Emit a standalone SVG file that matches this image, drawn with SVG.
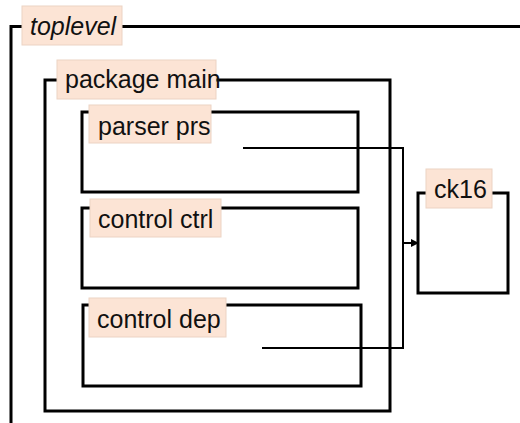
<svg xmlns="http://www.w3.org/2000/svg" width="520" height="423" viewBox="0 0 520 423">
<style>
.frame{fill:none;stroke:#000;stroke-width:3;stroke-linejoin:miter}
.lbl{fill:#fce4d5;stroke:#ecd3c3;stroke-width:1}
.txt{font-family:"Liberation Sans",Arial,sans-serif;font-size:25px;fill:#111}
.conn{fill:none;stroke:#000;stroke-width:2}
</style>
<defs>
<marker id="arr" markerWidth="8" markerHeight="8" refX="7" refY="4" orient="auto" markerUnits="userSpaceOnUse">
<path d="M0,0 L8,4 L0,8 z" fill="#000"/>
</marker>
</defs>
<rect width="520" height="423" fill="#fff"/>
<g id="toplevel">
<path class="frame" d="M11,424 L11,26.5 L521,26.5"/>
<rect class="lbl" x="22" y="6" width="100" height="39"/>
<text class="txt" x="30" y="35" font-style="italic">toplevel</text>
</g>
<g id="main">
<rect class="frame" x="45" y="80" width="345" height="331"/>
<rect class="lbl" x="57" y="60" width="159" height="39"/>
<text class="txt" x="65" y="88">package main</text>
</g>
<g id="prs">
<rect class="frame" x="82" y="112" width="276" height="80"/>
<rect class="lbl" x="89" y="105" width="122" height="38"/>
<text class="txt" x="98" y="135">parser prs</text>
</g>
<g id="ctrl">
<rect class="frame" x="82" y="208" width="276" height="80"/>
<rect class="lbl" x="90" y="199" width="131" height="38"/>
<text class="txt" x="98" y="228">control ctrl</text>
</g>
<g id="dep">
<rect class="frame" x="83" y="305" width="278" height="81"/>
<rect class="lbl" x="89" y="298" width="137" height="39"/>
<text class="txt" x="97" y="328">control dep</text>
</g>
<g id="ck16">
<rect class="frame" x="418" y="193" width="90" height="100"/>
<rect class="lbl" x="426" y="169" width="66" height="39"/>
<text class="txt" x="434" y="198">ck16</text>
</g>
<g id="connectors">
<path class="conn" d="M243,148 L403,148 L403,348 L262,348"/>
<path class="conn" d="M403,243 L418,243" marker-end="url(#arr)"/>
</g>
</svg>
